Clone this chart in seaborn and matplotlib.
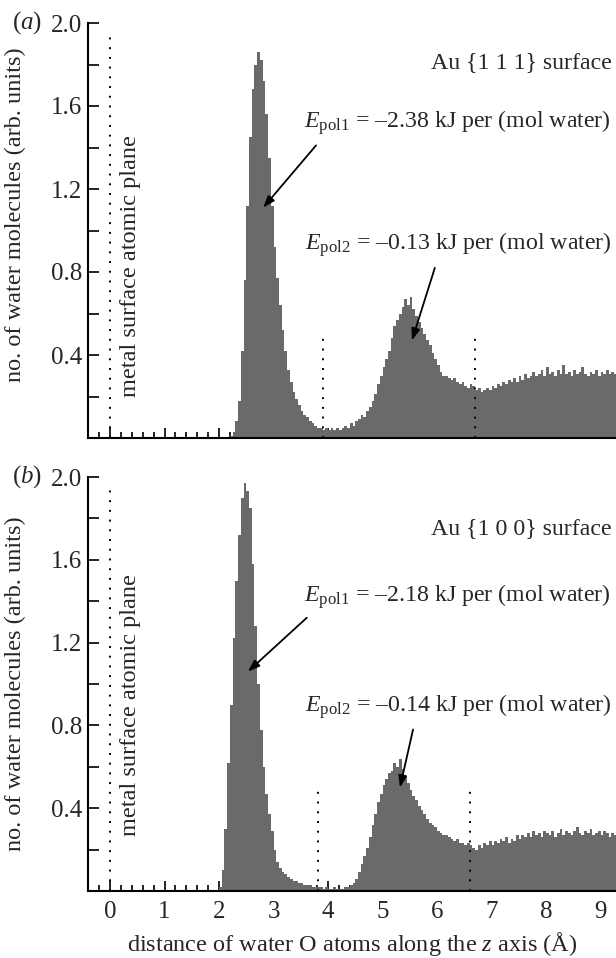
import numpy as np
import pandas as pd
import matplotlib
matplotlib.use("Agg")
import matplotlib.pyplot as plt
import seaborn as sns

# ---------------- data ----------------
BIN_W = 0.05
# panel (a) Au{111}: histogram heights, bins starting at 2.20 A
a_start = 2.20
a_heights = [
    0.01, 0.03, 0.08, 0.18, 0.42, 0.76, 1.12, 1.45, 1.68, 1.80,
    1.86, 1.82, 1.72, 1.56, 1.35, 1.12, 0.92, 0.77, 0.64, 0.52,
    0.42, 0.33, 0.27, 0.22, 0.19, 0.16, 0.13, 0.11, 0.10, 0.08,
    0.07, 0.06, 0.05, 0.05, 0.04, 0.05, 0.04, 0.05, 0.04, 0.05,
    0.04, 0.05, 0.06, 0.05, 0.07, 0.06, 0.08, 0.09, 0.11, 0.10,
    0.13, 0.15, 0.18, 0.21, 0.26, 0.30, 0.34, 0.38, 0.42, 0.48,
    0.54, 0.57, 0.60, 0.63, 0.67, 0.64, 0.68, 0.62, 0.59, 0.56,
    0.53, 0.50, 0.47, 0.45, 0.41, 0.38, 0.35, 0.32, 0.30, 0.30,
    0.29, 0.28, 0.29, 0.27, 0.26, 0.27, 0.25, 0.24, 0.26, 0.25,
    0.23, 0.24, 0.22, 0.23, 0.24, 0.23, 0.25, 0.24, 0.26, 0.25,
    0.27, 0.26, 0.28, 0.27, 0.29, 0.27, 0.30, 0.28, 0.31, 0.29,
    0.30, 0.32, 0.30, 0.31, 0.33, 0.30, 0.34, 0.31, 0.32, 0.30,
    0.33, 0.31, 0.35, 0.31, 0.32, 0.30, 0.33, 0.31, 0.32, 0.34,
    0.31, 0.30, 0.32, 0.31, 0.33, 0.30, 0.32, 0.31, 0.33, 0.31,
    0.32, 0.31,
]
# panel (b) Au{100}: histogram heights, bins starting at 2.00 A
b_start = 2.00
b_heights = [
    0.02, 0.10, 0.30, 0.62, 0.90, 1.22, 1.50, 1.72, 1.90, 1.97,
    1.93, 1.85, 1.58, 1.28, 1.00, 0.78, 0.60, 0.47, 0.37, 0.29,
    0.20, 0.14, 0.11, 0.09, 0.08, 0.07, 0.06, 0.05, 0.05, 0.04,
    0.04, 0.03, 0.03, 0.03, 0.02, 0.02, 0.02, 0.02, 0.01, 0.02,
    0.01, 0.01, 0.02, 0.01, 0.01, 0.01, 0.02, 0.02, 0.03, 0.04,
    0.06, 0.09, 0.13, 0.17, 0.21, 0.26, 0.32, 0.37, 0.43, 0.47,
    0.51, 0.54, 0.57, 0.58, 0.62, 0.60, 0.64, 0.59, 0.55, 0.52,
    0.49, 0.46, 0.44, 0.41, 0.39, 0.37, 0.35, 0.33, 0.32, 0.31,
    0.29, 0.28, 0.27, 0.27, 0.26, 0.25, 0.24, 0.25, 0.23, 0.23,
    0.22, 0.23, 0.22, 0.21, 0.20, 0.22, 0.21, 0.23, 0.22, 0.24,
    0.22, 0.24, 0.23, 0.25, 0.24, 0.26, 0.23, 0.25, 0.24, 0.27,
    0.25, 0.27, 0.26, 0.28, 0.26, 0.29, 0.27, 0.28, 0.26, 0.29,
    0.28, 0.27, 0.29, 0.26, 0.28, 0.30, 0.27, 0.29, 0.28, 0.27,
    0.29, 0.31, 0.28, 0.27, 0.29, 0.28, 0.30, 0.27, 0.28, 0.29,
    0.27, 0.29, 0.28, 0.26, 0.28, 0.27,
]

panel_labels = ["a", "b"]
surface_labels = ["Au {1 1 1} surface", "Au {1 0 0} surface"]
epol1_values = ["\u20132.38", "\u20132.18"]
epol2_values = ["\u20130.13", "\u20130.14"]
shell_bounds = [[3.90, 6.70], [3.81, 6.61]]
x_ticks = [0, 1, 2, 3, 4, 5, 6, 7, 8, 9]
y_ticks = [0.4, 0.8, 1.2, 1.6, 2.0]

# annotation geometry (data coordinates)
epol1_text_y = [1.52, 1.42]
epol2_text_y = [0.93, 0.89]
surf_text_y = [1.81, 1.75]
arrow1 = [((3.78, 1.41), (2.81, 1.11)), ((3.61, 1.32), (2.53, 1.06))]
arrow2 = [((5.96, 0.82), (5.54, 0.47)), ((5.56, 0.78), (5.32, 0.50))]
metal_text_y = [0.83, 0.90]

# ---------------- style ----------------
sns.set_style("ticks")
plt.rcParams["font.family"] = ["Liberation Serif", "DejaVu Serif"]
plt.rcParams["mathtext.fontset"] = "custom"
plt.rcParams["mathtext.rm"] = "Liberation Serif"
plt.rcParams["mathtext.it"] = "Liberation Serif:italic"
plt.rcParams["mathtext.bf"] = "Liberation Serif:bold"

FILL = "#696a6c"
TICK_FS = 18
LABEL_FS = 17.5
ANN_FS = 17.2

fig = plt.figure(figsize=(6.16, 9.58), dpi=100)
W, H = 616, 958
ax_a = fig.add_axes([88 / W, (H - 438) / H, (W - 88) / W, 415 / H])
ax_b = fig.add_axes([88 / W, (H - 891) / H, (W - 88) / W, 414 / H])
axes = [ax_a, ax_b]
starts = [a_start, b_start]
heights = [a_heights, b_heights]
ylabel_y = [0.537, 0.501]

for i, ax in enumerate(axes):
    n = len(heights[i])
    lo = starts[i]
    hi = starts[i] + BIN_W * n
    centers = lo + BIN_W * (np.arange(n) + 0.5)
    df = pd.DataFrame({"z": centers, "w": heights[i]})
    sns.histplot(data=df, x="z", weights="w", binwidth=BIN_W,
                 binrange=(lo, hi), ax=ax,
                 element="step", fill=True, color=FILL, alpha=1,
                 linewidth=0)

    ax.set_xlim(-0.404, 9.284)
    ax.set_ylim(0, 2.0)
    sns.despine(ax=ax)
    for s in ["left", "bottom"]:
        ax.spines[s].set_linewidth(1.5)
        ax.spines[s].set_color("black")

    ax.set_xticks(x_ticks)
    ax.set_xticks(np.arange(-0.4, 9.3, 0.2), minor=True)
    ax.set_yticks(y_ticks)
    ax.set_yticks([0.2, 0.6, 1.0, 1.4, 1.8], minor=True)
    ax.tick_params(axis="both", which="both", direction="in", color="black",
                   labelsize=TICK_FS, width=1.2)
    ax.tick_params(axis="x", which="major", length=7, pad=7)
    ax.tick_params(axis="x", which="minor", length=4)
    ax.tick_params(axis="y", which="both", length=8, pad=4)
    ax.set_yticklabels([f"{v:.1f}" for v in y_ticks])
    if i == 0:
        ax.set_xticklabels([])
        ax.set_xlabel("")
    else:
        ax.set_xticklabels([str(v) for v in x_ticks])
        ax.set_xlabel(r"distance of water O atoms along the $z$ axis (Å)",
                      fontsize=LABEL_FS, labelpad=5)

    ax.set_ylabel("no. of water molecules (arb. units)", fontsize=LABEL_FS)
    ax.yaxis.set_label_coords(-0.117, ylabel_y[i])

    # dotted guide lines
    ax.plot([0, 0], [0, 1.96], color="black", lw=1.4, ls=(0, (1, 4)))
    for xb in shell_bounds[i]:
        ax.plot([xb, xb], [0, 0.50], color="black", lw=1.4, ls=(0, (1, 4)))

    ax.text(0.37, metal_text_y[i], "metal surface atomic plane",
            rotation=90, ha="center", va="center", fontsize=LABEL_FS)

    ax.text(9.21, surf_text_y[i], surface_labels[i], ha="right",
            va="center", fontsize=ANN_FS)
    ax.text(9.19, epol1_text_y[i],
            r"$E_{\mathrm{pol1}}$ = " + epol1_values[i] + " kJ per (mol water)",
            ha="right", va="center", fontsize=ANN_FS)
    ax.text(9.21, epol2_text_y[i],
            r"$E_{\mathrm{pol2}}$ = " + epol2_values[i] + " kJ per (mol water)",
            ha="right", va="center", fontsize=ANN_FS)

    for (st, en) in [arrow1[i], arrow2[i]]:
        ax.annotate("", xy=en, xytext=st,
                    arrowprops=dict(arrowstyle="-|>,head_length=0.7,head_width=0.25",
                                    color="black", lw=1.3, shrinkA=0, shrinkB=0))

    fig.text(12 / W, 1 - (23 + (i * (477 - 23))) / H,
             "(" + r"$\mathit{" + panel_labels[i] + "}$" + ")",
             ha="left", va="center", fontsize=TICK_FS)

fig.savefig("out.png", dpi=100)
